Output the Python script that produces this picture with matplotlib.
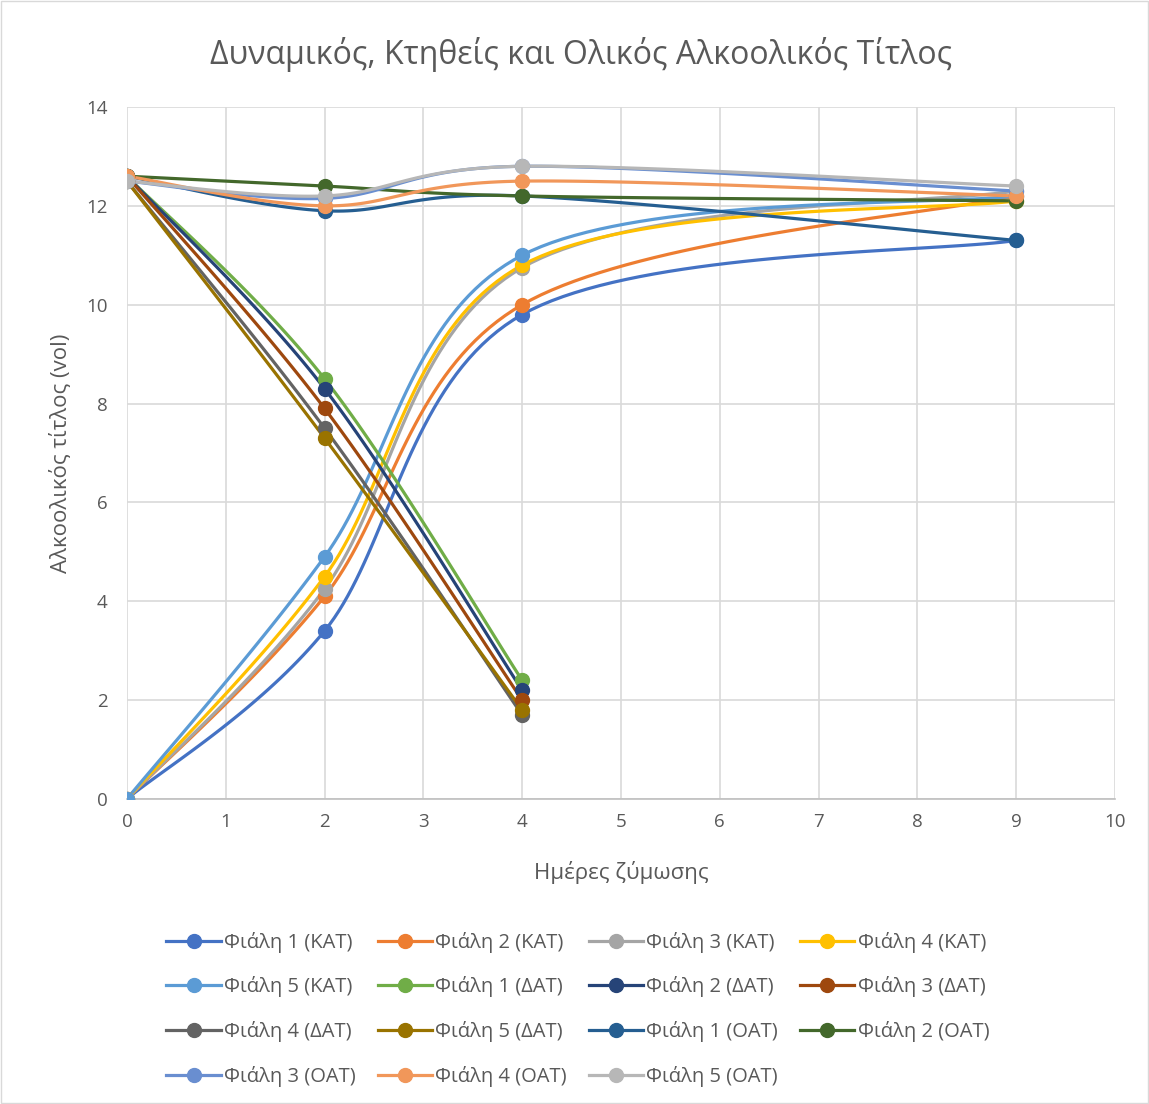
import matplotlib
matplotlib.use("Agg")
import matplotlib.pyplot as plt
import numpy as np

plt.rcParams["font.family"] = ["Open Sans", "DejaVu Sans"]

# ------------------------------------------------------------------
# Data
# ------------------------------------------------------------------
days_long = [0, 2, 4, 9]
days_short = [0, 2, 4]

kat_labels = ["Φιάλη 1 (ΚΑΤ)", "Φιάλη 2 (ΚΑΤ)", "Φιάλη 3 (ΚΑΤ)", "Φιάλη 4 (ΚΑΤ)", "Φιάλη 5 (ΚΑΤ)"]
kat_values = [
    [0, 3.4, 9.8, 11.3],
    [0, 4.1, 10.0, 12.2],
    [0, 4.25, 10.75, 12.3],
    [0, 4.5, 10.8, 12.1],
    [0, 4.9, 11.0, 12.2],
]
kat_colors = ["#4472C4", "#ED7D31", "#A5A5A5", "#FFC000", "#5B9BD5"]

dat_labels = ["Φιάλη 1 (ΔΑΤ)", "Φιάλη 2 (ΔΑΤ)", "Φιάλη 3 (ΔΑΤ)", "Φιάλη 4 (ΔΑΤ)", "Φιάλη 5 (ΔΑΤ)"]
dat_values = [
    [12.6, 8.5, 2.4],
    [12.6, 8.3, 2.2],
    [12.6, 7.9, 2.0],
    [12.5, 7.5, 1.7],
    [12.5, 7.3, 1.8],
]
dat_colors = ["#70AD47", "#264478", "#9E480E", "#636363", "#997300"]

oat_labels = ["Φιάλη 1 (ΟΑΤ)", "Φιάλη 2 (ΟΑΤ)", "Φιάλη 3 (ΟΑΤ)", "Φιάλη 4 (ΟΑΤ)", "Φιάλη 5 (ΟΑΤ)"]
oat_values = [
    [12.6, 11.9, 12.2, 11.3],
    [12.6, 12.4, 12.2, 12.1],
    [12.5, 12.15, 12.8, 12.3],
    [12.6, 12.0, 12.5, 12.2],
    [12.5, 12.2, 12.8, 12.4],
]
oat_colors = ["#255E91", "#43682B", "#698ED0", "#F1975A", "#B7B7B7"]


def smooth(xs, ys, n=40):
    # Excel-like smoothed line: Catmull-Rom style cubic Bezier between points
    p = np.column_stack([xs, ys]).astype(float)
    pts = []
    for i in range(len(p) - 1):
        p0 = p[i - 1] if i > 0 else p[i]
        p3 = p[i + 2] if i + 2 < len(p) else p[i + 1]
        c1 = p[i] + (p[i + 1] - p0) / 6
        c2 = p[i + 1] - (p3 - p[i]) / 6
        t = np.linspace(0, 1, n)[:, None]
        seg = ((1 - t) ** 3) * p[i] + 3 * ((1 - t) ** 2) * t * c1 + 3 * (1 - t) * t ** 2 * c2 + t ** 3 * p[i + 1]
        pts.append(seg if i == 0 else seg[1:])
    pts = np.vstack(pts)
    return pts[:, 0], pts[:, 1]


fig = plt.figure(figsize=(11.49, 11.04), dpi=100)
ax = fig.add_axes([0.1105, 0.2763, 0.8599, 0.6268])

series = []
for labels, values, colors, xs in [
    (kat_labels, kat_values, kat_colors, days_long),
    (dat_labels, dat_values, dat_colors, days_short),
    (oat_labels, oat_values, oat_colors, days_long),
]:
    for lab, vals, col in zip(labels, values, colors):
        series.append((lab, xs, vals, col))

handles = []
for lab, xs, vals, col in series:
    sx, sy = smooth(xs, vals)
    ax.plot(sx, sy, color=col, lw=2.3, solid_capstyle="round", zorder=3)
    ax.plot(xs, vals, "o", color=col, ms=10, zorder=4)
    h, = ax.plot([], [], color=col, lw=2.3, marker="o", ms=10, label=lab)
    handles.append(h)

ax.set_xlim(0, 10)
ax.set_ylim(0, 14)
ax.set_xticks(range(0, 11))
ax.set_yticks(range(0, 15, 2))
ax.grid(True, color="#D9D9D9", lw=1.2)
ax.set_axisbelow(True)
for s in ["top", "right", "left"]:
    ax.spines[s].set_visible(False)
ax.spines["bottom"].set_color("#BFBFBF")
ax.spines["bottom"].set_linewidth(1.2)
ax.tick_params(axis="both", length=0, labelsize=13.5, colors="#595959", pad=10)
ax.tick_params(axis="y", pad=14)

ax.set_xlabel("Ημέρες ζύμωσης", fontsize=16, color="#595959", labelpad=22)
ax.set_ylabel("Αλκοολικός τίτλος (vol)", fontsize=16, color="#595959", labelpad=10)
fig.text(0.506, 0.951, "Δυναμικός, Κτηθείς και Ολικός Αλκοολικός Τίτλος",
         ha="center", va="center", fontsize=23, color="#595959")

# legend is filled column by column, so reorder to read row by row
ncol = 4
order = [i for c in range(ncol) for i in range(c, len(handles), ncol)]
leg = fig.legend(handles=[handles[i] for i in order], loc="upper left",
                 bbox_to_anchor=(0.129, 0.1725), ncol=ncol, frameon=False,
                 fontsize=14.5, handlelength=2.7, handletextpad=0.15,
                 columnspacing=1.1, labelspacing=1.18)
for t in leg.get_texts():
    t.set_color("#595959")

fig.patches.append(plt.Rectangle((0.001, 0.001), 0.998, 0.998, transform=fig.transFigure,
                                 fill=False, edgecolor="#D9D9D9", lw=1))

plt.savefig("out.png", dpi=100)
